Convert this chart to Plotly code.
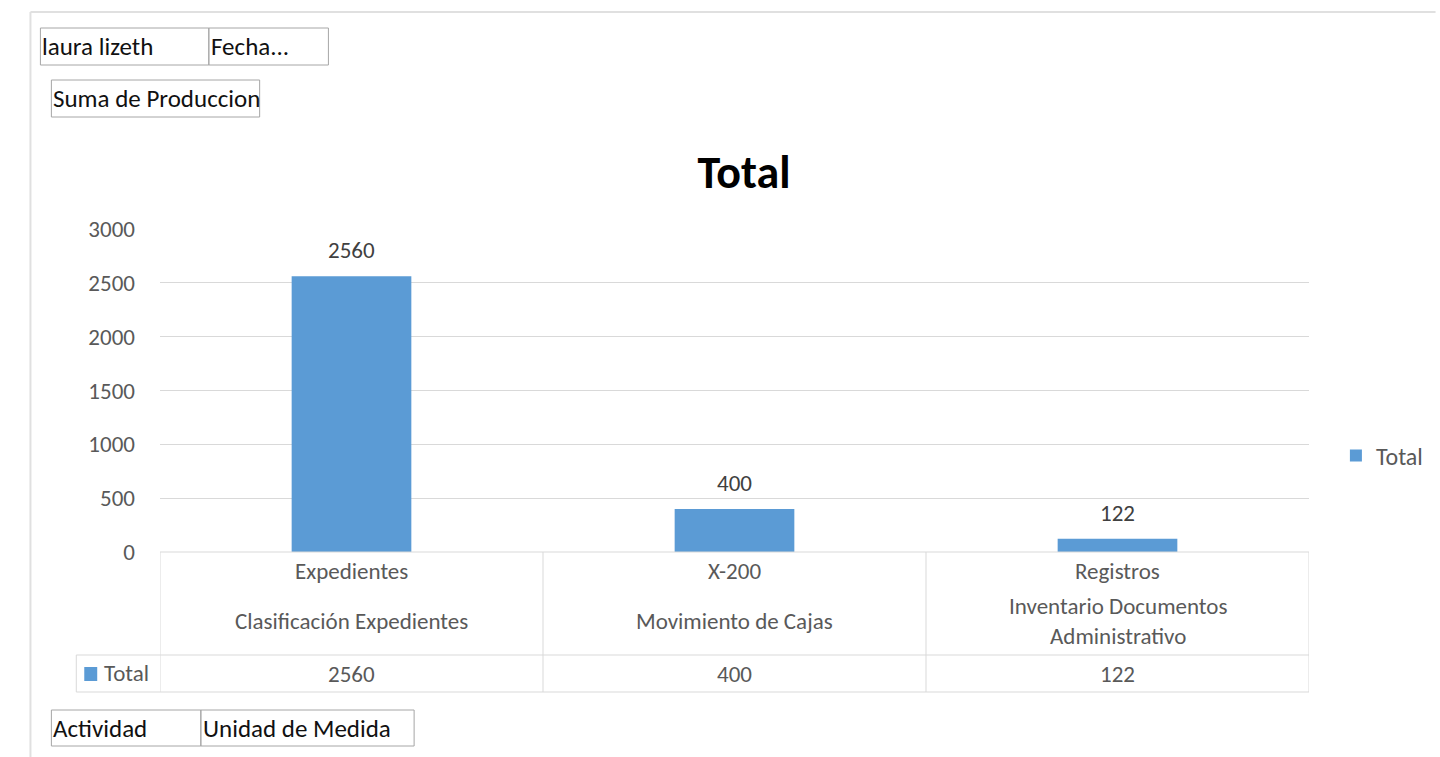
import plotly.graph_objects as go

# ---- data ----
categories = ["Expedientes", "X-200", "Registros"]
subcategories = ["Clasificación Expedientes", "Movimiento de Cajas", "Inventario Documentos<br>Administrativo"]
values = [2560, 400, 122]
series_name = "Total"
y_ticks = [0, 500, 1000, 1500, 2000, 2500, 3000]
title_text = "Total"
filter_boxes = [["laura lizeth", "Fecha..."], ["Suma de Produccion"]]
axis_boxes = ["Actividad", "Unidad de Medida"]

BLUE = "#5b9bd5"
GRAY_TXT = "#595959"
GRID = "#d9d9d9"
FONT = "Carlito, Lato, sans-serif"
TXT = 23

W, H = 1440, 757
L, R, T, B = 160, 1313, 229, 552


def px(x):
    return (x - L) / (R - L)


def py(y):
    return (B - y) / (B - T)


xs = list(range(len(categories)))

fig = go.Figure()
fig.add_trace(go.Bar(
    x=xs, y=values, name=series_name, marker=dict(color=BLUE, line=dict(width=0)),
    width=0.3125, showlegend=True, hoverinfo="y",
))

shapes = []
annotations = []


def line(x0, y0, x1, y1, color=GRID, width=1, xref="paper"):
    shapes.append(dict(type="line", xref=xref, yref="paper", x0=x0, y0=y0, x1=x1, y1=y1,
                       line=dict(color=color, width=width), layer="above"))


# outer frame
line(px(30), py(12), px(W), py(12), color="#e0e0e0", width=2)
line(px(30), py(12), px(30), py(H), color="#e0e0e0", width=2)


# filter / axis field boxes
def box(x0, y0, x1, y1, text):
    shapes.append(dict(type="rect", xref="paper", yref="paper", x0=px(x0), y0=py(y0), x1=px(x1), y1=py(y1),
                       line=dict(color="#a6a6a6", width=1), fillcolor="rgba(0,0,0,0)", layer="above"))
    annotations.append(dict(xref="paper", yref="paper", x=px(x0), y=py((y0 + y1) / 2), text=text,
                            showarrow=False, xanchor="left", yanchor="middle",
                            font=dict(family=FONT, size=25, color="#111111")))


box(40, 28, 209, 65, filter_boxes[0][0])
box(209, 28, 329, 65, filter_boxes[0][1])
box(51, 80, 260, 117, filter_boxes[1][0])
box(51, 710, 201, 746, axis_boxes[0])
box(201, 710, 415, 746, axis_boxes[1])

# data table
row1_bottom, row2_bottom = 655, 692
line(0, py(B), 1, py(B))
line(px(76), py(row1_bottom), 1, py(row1_bottom))
line(px(76), py(row2_bottom), 1, py(row2_bottom))
line(px(76), py(row1_bottom), px(76), py(row2_bottom))
for b in [-0.5 + i for i in range(len(categories) + 1)]:
    shapes.append(dict(type="line", xref="x", yref="paper", x0=b, x1=b, y0=py(B), y1=py(row2_bottom),
                       line=dict(color=GRID, width=1), layer="above"))

for i, (c, s, v) in enumerate(zip(categories, subcategories, values)):
    annotations.append(dict(xref="x", yref="paper", x=i, y=py(571), text=c, showarrow=False,
                            yanchor="middle", font=dict(family=FONT, size=TXT, color=GRAY_TXT)))
    annotations.append(dict(xref="x", yref="paper", x=i, y=py(621), text=s, showarrow=False,
                            yanchor="middle", font=dict(family=FONT, size=TXT, color=GRAY_TXT)))
    annotations.append(dict(xref="x", yref="paper", x=i, y=py(674), text=str(v), showarrow=False,
                            yanchor="middle", font=dict(family=FONT, size=TXT, color=GRAY_TXT)))
    annotations.append(dict(xref="x", yref="y", x=i, y=v, text=str(v), showarrow=False,
                            yanchor="middle", yshift=26, font=dict(family=FONT, size=TXT, color="#404040")))

# legend key in table
shapes.append(dict(type="rect", xref="paper", yref="paper", x0=px(84), x1=px(97), y0=py(667), y1=py(681),
                   fillcolor=BLUE, line=dict(width=0), layer="above"))
annotations.append(dict(xref="paper", yref="paper", x=px(102), y=py(673), text=series_name, showarrow=False,
                        xanchor="left", yanchor="middle", font=dict(family=FONT, size=TXT, color=GRAY_TXT)))

fig.update_layout(
    width=W, height=H,
    margin=dict(l=L, r=W - R, t=T, b=H - B, pad=0),
    paper_bgcolor="white", plot_bgcolor="white",
    title=dict(text="<b>" + title_text + "</b>", x=744 / W, xanchor="center", y=1 - 172 / H, yanchor="middle",
               xref="container", yref="container", font=dict(family=FONT, size=46, color="black")),
    xaxis=dict(range=[-0.5, len(categories) - 0.5], showticklabels=False, showgrid=False,
               zeroline=False, showline=False, ticks=""),
    yaxis=dict(range=[0, 3000], tickvals=y_ticks, ticktext=[str(t) for t in y_ticks],
               showgrid=True, gridcolor=GRID, gridwidth=1, zeroline=False, showline=False,
               ticks="", ticklabelstandoff=24,
               tickfont=dict(family=FONT, size=TXT, color=GRAY_TXT)),
    legend=dict(x=px(1340), y=py(456), xanchor="left", yanchor="middle",
                font=dict(family=FONT, size=24, color=GRAY_TXT), itemwidth=30,
                bgcolor="rgba(0,0,0,0)"),
    shapes=shapes, annotations=annotations,
    bargap=0.6875,
)

fig.write_html("out.html")
